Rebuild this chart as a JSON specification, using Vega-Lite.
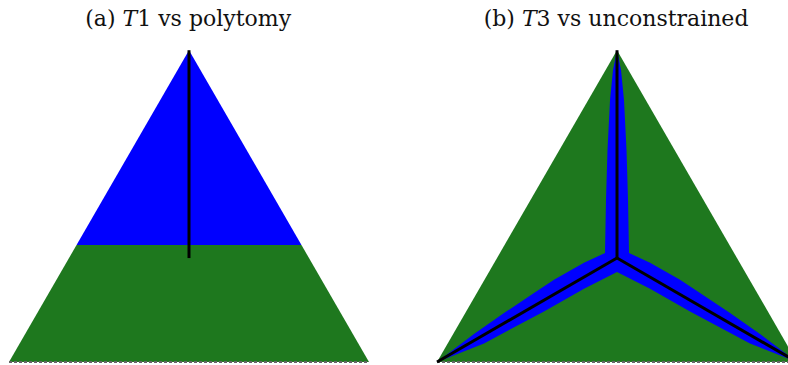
{
  "$schema": "https://vega.github.io/schema/vega-lite/v6.json",
  "padding": 0,
  "spacing": 0,
  "config": {"view": {"stroke": null}},
  "datasets": {
    "a_green": [
      {"i": 0, "x": 0, "y": 0},
      {"i": 1, "x": 0.1876, "y": 0.325},
      {"i": 2, "x": 0.8124, "y": 0.325},
      {"i": 3, "x": 1, "y": 0}
    ],
    "a_blue": [
      {"i": 0, "x": 0.1876, "y": 0.325},
      {"i": 1, "x": 0.5, "y": 0.866},
      {"i": 2, "x": 0.8124, "y": 0.325}
    ],
    "b_green": [
      {"i": 0, "x": 0, "y": 0},
      {"i": 1, "x": 0.5, "y": 0.866},
      {"i": 2, "x": 1, "y": 0}
    ],
    "b_blue": [
      {"i": 0, "x": 0.5, "y": 0.866},
      {"i": 1, "x": 0.5111, "y": 0.8111},
      {"i": 2, "x": 0.5194, "y": 0.7278},
      {"i": 3, "x": 0.5264, "y": 0.5889},
      {"i": 4, "x": 0.5306, "y": 0.45},
      {"i": 5, "x": 0.5333, "y": 0.3028},
      {"i": 6, "x": 0.5917, "y": 0.2758},
      {"i": 7, "x": 0.675, "y": 0.2286},
      {"i": 8, "x": 0.7306, "y": 0.1914},
      {"i": 9, "x": 0.8139, "y": 0.1358},
      {"i": 10, "x": 0.8972, "y": 0.0775},
      {"i": 11, "x": 1.0, "y": 0},
      {"i": 12, "x": 0.8694, "y": 0.0517},
      {"i": 13, "x": 0.7028, "y": 0.1406},
      {"i": 14, "x": 0.5917, "y": 0.2036},
      {"i": 15, "x": 0.5, "y": 0.25},
      {"i": 16, "x": 0.4083, "y": 0.2036},
      {"i": 17, "x": 0.2972, "y": 0.1406},
      {"i": 18, "x": 0.1306, "y": 0.0517},
      {"i": 19, "x": 0, "y": 0},
      {"i": 20, "x": 0.1028, "y": 0.0775},
      {"i": 21, "x": 0.1861, "y": 0.1358},
      {"i": 22, "x": 0.2694, "y": 0.1914},
      {"i": 23, "x": 0.325, "y": 0.2286},
      {"i": 24, "x": 0.4083, "y": 0.2758},
      {"i": 25, "x": 0.4667, "y": 0.3028},
      {"i": 26, "x": 0.4694, "y": 0.45},
      {"i": 27, "x": 0.4736, "y": 0.5889},
      {"i": 28, "x": 0.4806, "y": 0.7278},
      {"i": 29, "x": 0.4889, "y": 0.8111}
    ],
    "a_lines": [
      {"x": 0.5, "y": 0.866, "x2": 0.5, "y2": 0.2887}
    ],
    "b_lines": [
      {"x": 0.5, "y": 0.2887, "x2": 0.5, "y2": 0.866},
      {"x": 0.5, "y": 0.2887, "x2": 0, "y2": 0},
      {"x": 0.5, "y": 0.2887, "x2": 1, "y2": 0}
    ],
    "base": [
      {"x": 0, "y": 0, "x2": 1, "y2": 0}
    ],
    "a_title": [
      {"x": 0.2958, "y": 0.9333, "t": "(a)", "part": "label"},
      {"x": 0.3153, "y": 0.9333, "t": "T", "part": "math"},
      {"x": 0.3561, "y": 0.9333, "t": "1 vs polytomy", "part": "rest"}
    ],
    "b_title": [
      {"x": 0.2164, "y": 0.9333, "t": "(b)", "part": "label"},
      {"x": 0.2358, "y": 0.9333, "t": "T", "part": "math"},
      {"x": 0.2767, "y": 0.9333, "t": "3 vs unconstrained", "part": "rest"}
    ]
  },
  "hconcat": [
    {
      "width": 400,
      "height": 365,
      "encoding": {
        "x": {"field": "x", "type": "quantitative", "axis": null, "scale": {"domain": [-0.025, 1.0861], "nice": false, "zero": false}},
        "y": {"field": "y", "type": "quantitative", "axis": null, "scale": {"domain": [-0.00833, 1.00556], "nice": false, "zero": false}}
      },
      "layer": [
        {
          "data": {"name": "a_green"},
          "mark": {"type": "line", "filled": true, "fill": "#1e781e", "strokeWidth": 0},
          "encoding": {"order": {"field": "i", "type": "quantitative"}}
        },
        {
          "data": {"name": "a_blue"},
          "mark": {"type": "line", "filled": true, "fill": "#0000ff", "strokeWidth": 0},
          "encoding": {"order": {"field": "i", "type": "quantitative"}}
        },
        {
          "data": {"name": "base"},
          "mark": {"type": "rule", "color": "#666666", "strokeWidth": 2, "strokeDash": [3, 2]},
          "encoding": {"x2": {"field": "x2"}, "y2": {"field": "y2"}}
        },
        {
          "data": {"name": "a_lines"},
          "mark": {"type": "rule", "color": "#000000", "strokeWidth": 3},
          "encoding": {"x2": {"field": "x2"}, "y2": {"field": "y2"}}
        },
        {
          "data": {"name": "a_title"},
          "transform": [{"filter": "datum.part === 'label'"}],
          "mark": {"type": "text", "font": "DejaVu Serif", "fontSize": 22, "align": "right", "baseline": "alphabetic", "color": "#111111"},
          "encoding": {"text": {"field": "t"}}
        },
        {
          "data": {"name": "a_title"},
          "transform": [{"filter": "datum.part === 'math'"}],
          "mark": {"type": "text", "font": "DejaVu Serif", "fontSize": 22, "fontStyle": "italic", "align": "left", "baseline": "alphabetic", "color": "#111111"},
          "encoding": {"text": {"field": "t"}}
        },
        {
          "data": {"name": "a_title"},
          "transform": [{"filter": "datum.part === 'rest'"}],
          "mark": {"type": "text", "font": "DejaVu Serif", "fontSize": 22, "align": "left", "baseline": "alphabetic", "color": "#111111"},
          "encoding": {"text": {"field": "t"}}
        }
      ]
    },
    {
      "width": 400,
      "height": 365,
      "encoding": {
        "x": {"field": "x", "type": "quantitative", "axis": null, "scale": {"domain": [-0.1028, 1.0083], "nice": false, "zero": false}},
        "y": {"field": "y", "type": "quantitative", "axis": null, "scale": {"domain": [-0.00833, 1.00556], "nice": false, "zero": false}}
      },
      "layer": [
        {
          "data": {"name": "b_green"},
          "mark": {"type": "line", "filled": true, "fill": "#1e781e", "strokeWidth": 0},
          "encoding": {"order": {"field": "i", "type": "quantitative"}}
        },
        {
          "data": {"name": "b_blue"},
          "mark": {"type": "line", "filled": true, "fill": "#0000ff", "strokeWidth": 0},
          "encoding": {"order": {"field": "i", "type": "quantitative"}}
        },
        {
          "data": {"name": "base"},
          "mark": {"type": "rule", "color": "#666666", "strokeWidth": 2, "strokeDash": [3, 2]},
          "encoding": {"x2": {"field": "x2"}, "y2": {"field": "y2"}}
        },
        {
          "data": {"name": "b_lines"},
          "mark": {"type": "rule", "color": "#000000", "strokeWidth": 3},
          "encoding": {"x2": {"field": "x2"}, "y2": {"field": "y2"}}
        },
        {
          "data": {"name": "b_title"},
          "transform": [{"filter": "datum.part === 'label'"}],
          "mark": {"type": "text", "font": "DejaVu Serif", "fontSize": 22, "align": "right", "baseline": "alphabetic", "color": "#111111"},
          "encoding": {"text": {"field": "t"}}
        },
        {
          "data": {"name": "b_title"},
          "transform": [{"filter": "datum.part === 'math'"}],
          "mark": {"type": "text", "font": "DejaVu Serif", "fontSize": 22, "fontStyle": "italic", "align": "left", "baseline": "alphabetic", "color": "#111111"},
          "encoding": {"text": {"field": "t"}}
        },
        {
          "data": {"name": "b_title"},
          "transform": [{"filter": "datum.part === 'rest'"}],
          "mark": {"type": "text", "font": "DejaVu Serif", "fontSize": 22, "align": "left", "baseline": "alphabetic", "color": "#111111"},
          "encoding": {"text": {"field": "t"}}
        }
      ]
    }
  ]
}
